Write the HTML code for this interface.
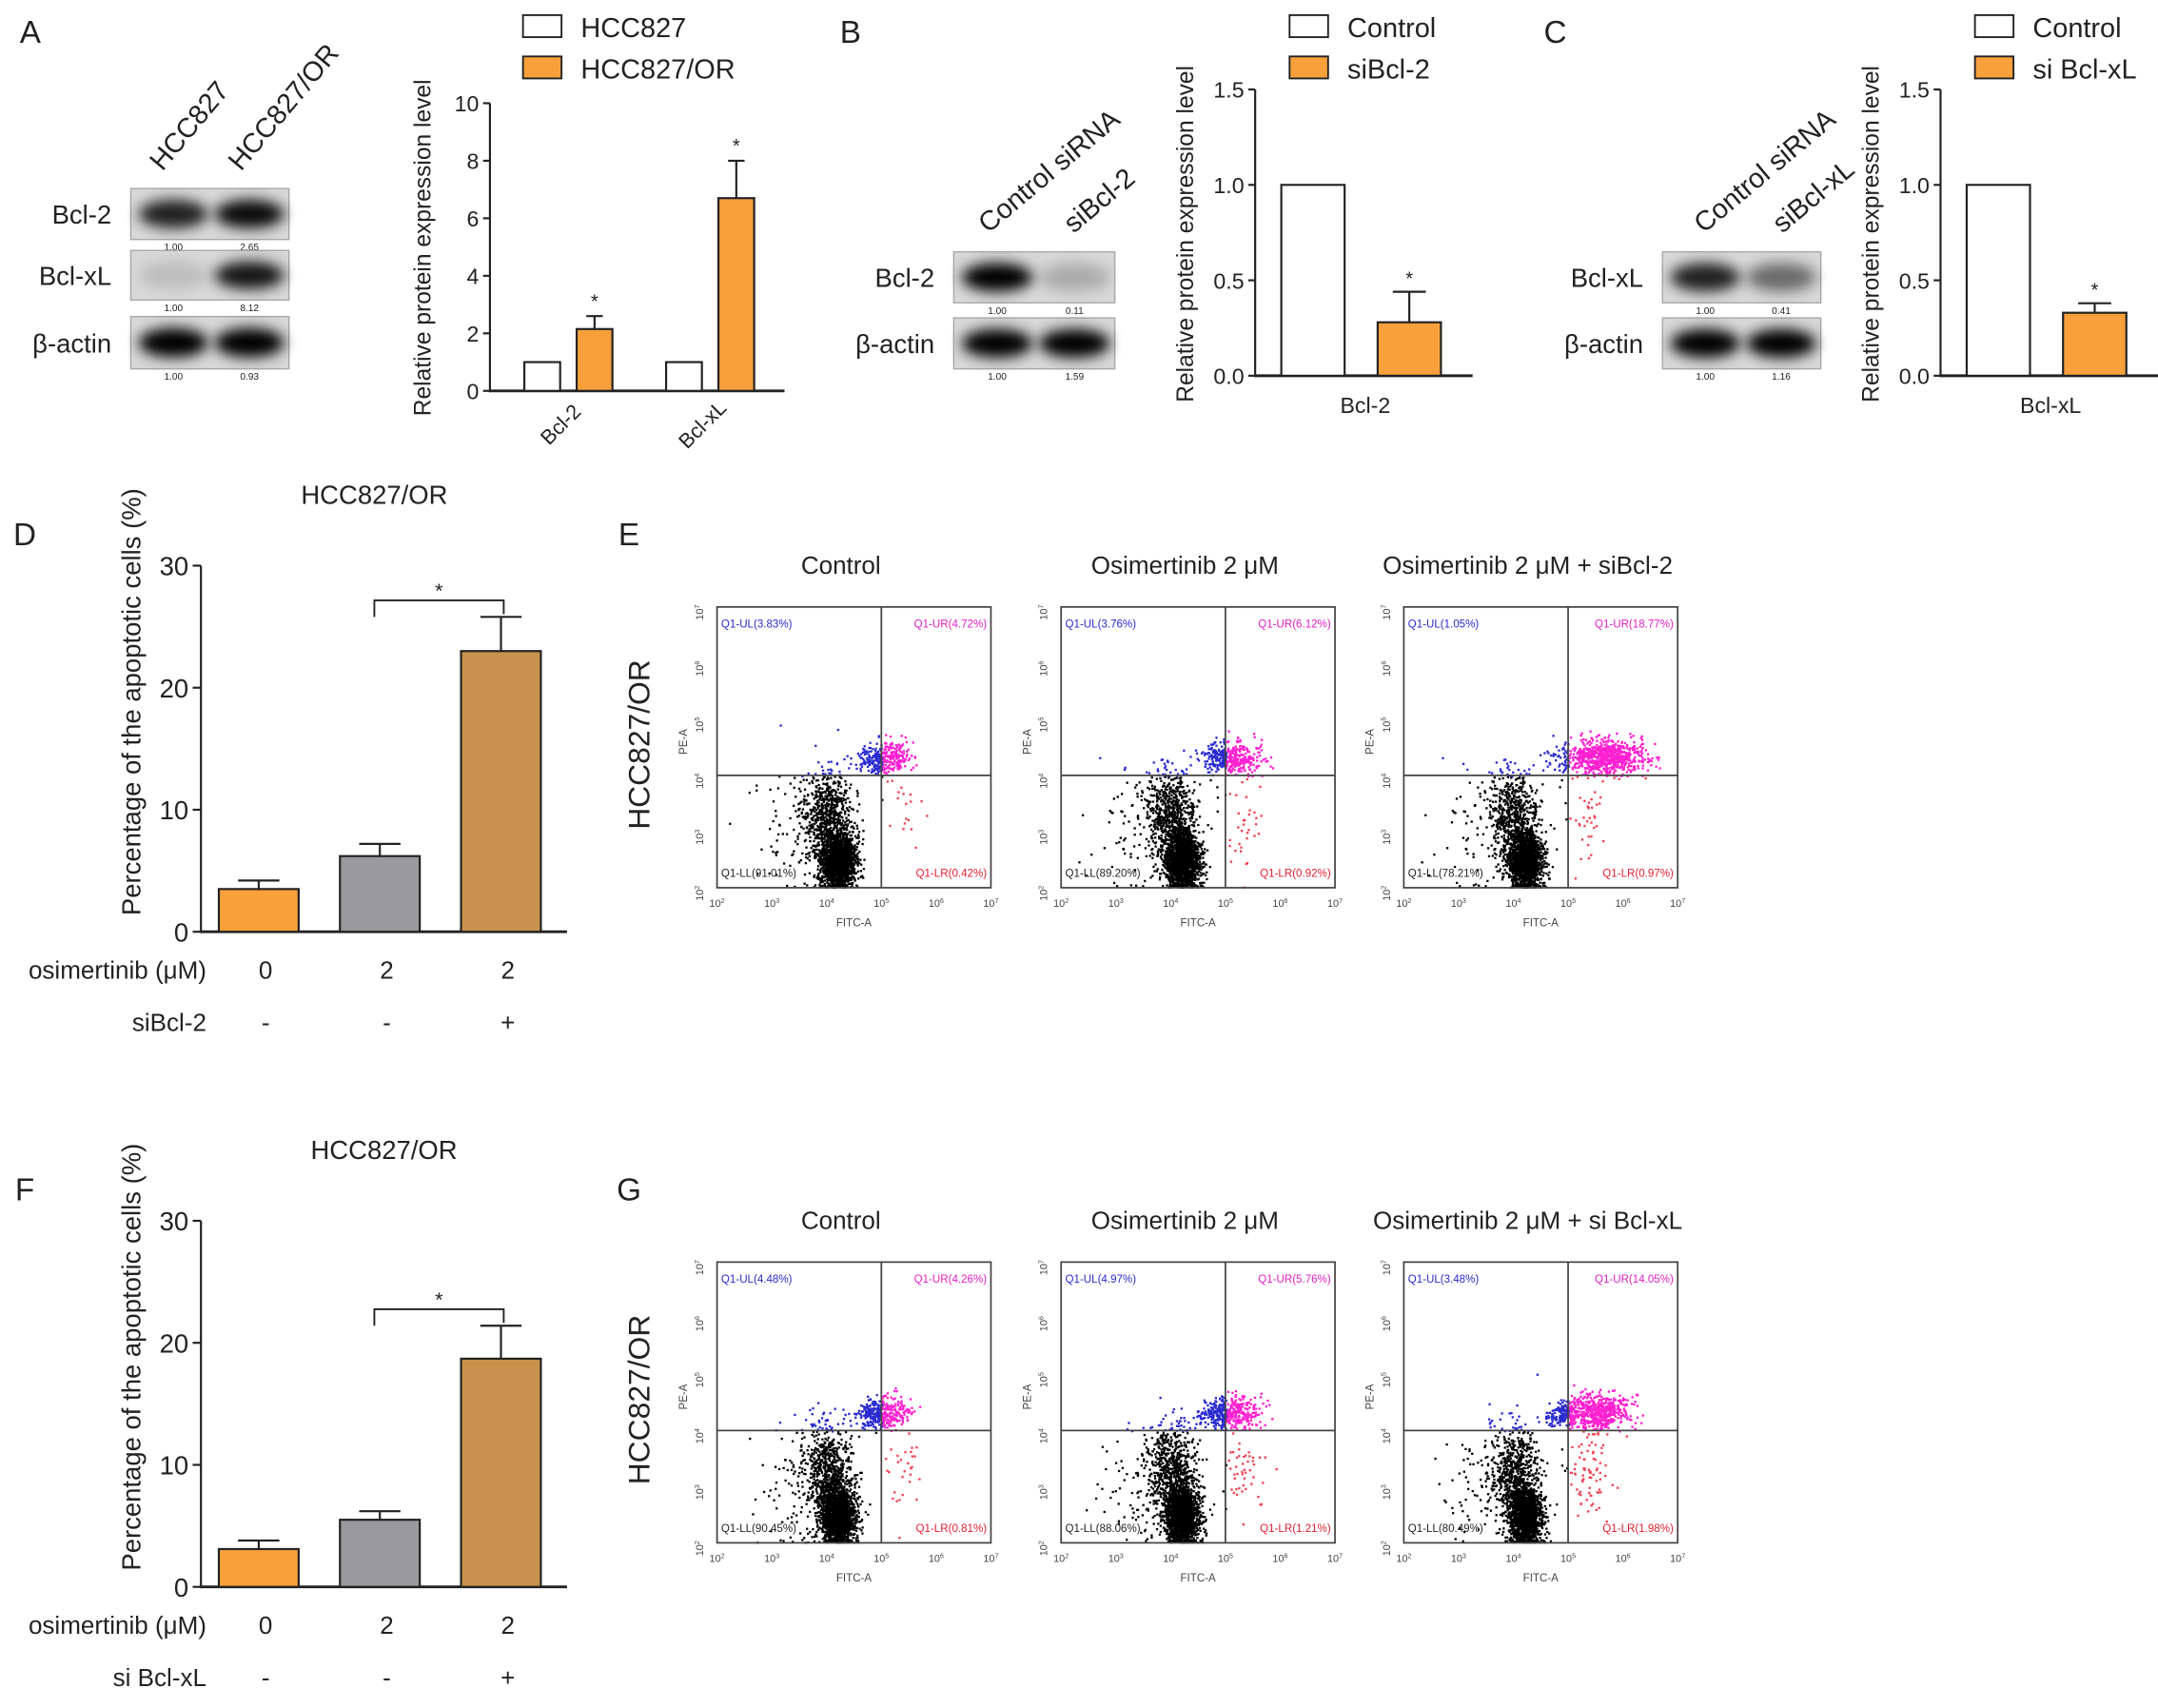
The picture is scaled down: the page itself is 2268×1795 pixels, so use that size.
<!DOCTYPE html>
<html><head><meta charset="utf-8">
<style>
html,body{margin:0;padding:0;background:#fff;}
svg{display:block;font-family:"Liberation Sans",sans-serif;}
</style></head>
<body>
<svg id="fig" width="2268" height="1795" viewBox="0 0 1568 1241" preserveAspectRatio="none" xmlns="http://www.w3.org/2000/svg">
<defs>
<filter id="blur" x="-30%" y="-60%" width="160%" height="220%"><feGaussianBlur stdDeviation="5"/></filter>
</defs>
</svg>
<script>
// ---------- DATA ----------
const aCategories = ["Bcl-2", "Bcl-xL"];
const aSeriesNames = ["HCC827", "HCC827/OR"];
const aControl = [1.0, 1.0];
const aResistant = [2.15, 6.7];
const aResistantErr = [0.45, 1.3];
const aTicks = [0, 2, 4, 6, 8, 10];

const bCategories = ["Bcl-2"];
const bControl = [1.0];
const bSi = [0.28];
const bSiErr = [0.16];
const cCategories = ["Bcl-xL"];
const cControl = [1.0];
const cSi = [0.33];
const cSiErr = [0.05];
const bcTicks = [0.0, 0.5, 1.0, 1.5];

const dValues = [3.5, 6.2, 23.0];
const dErr = [0.7, 1.0, 2.8];
const fValues = [3.1, 5.5, 18.7];
const fErr = [0.7, 0.7, 2.7];
const dfTicks = [0, 10, 20, 30];
const dfDoses = ["0", "2", "2"];
const dfSi = ["-", "-", "+"];

const eTitles = ["Control", "Osimertinib 2 μM", "Osimertinib 2 μM + siBcl-2"];
const gTitles = ["Control", "Osimertinib 2 μM", "Osimertinib 2 μM + si Bcl-xL"];
const eUL = [3.83, 3.76, 1.05], eUR = [4.72, 6.12, 18.77], eLL = [91.01, 89.20, 78.21], eLR = [0.42, 0.92, 0.97];
const gUL = [4.48, 4.97, 3.48], gUR = [4.26, 5.76, 14.05], gLL = [90.45, 88.06, 80.49], gLR = [0.81, 1.21, 1.98];

// ---------- HELPERS ----------
const NS = "http://www.w3.org/2000/svg";
const svg = document.getElementById("fig");
function mk(tag, attrs, parent, text) {
  const e = document.createElementNS(NS, tag);
  for (const k in attrs) e.setAttribute(k, attrs[k]);
  if (text !== undefined) e.textContent = text;
  (parent || svg).appendChild(e);
  return e;
}
function grp(name, parent) {
  const g = mk("g", {}, parent);
  
  
  return g;
}
function txt(parent, x, y, s, size, opts) {
  opts = opts || {};
  const a = {x: x, y: y, "font-size": size, fill: opts.fill || "#222", "text-anchor": opts.anchor || "middle"};
  if (opts.rot !== undefined) a.transform = "rotate(" + opts.rot + " " + x + " " + y + ")";
  if (opts.weight) a["font-weight"] = opts.weight;
  const t = mk("text", a, parent, s);
  
  
  return t;
}
function line(p, x1, y1, x2, y2, w, c) {
  return mk("line", {x1: x1, y1: y1, x2: x2, y2: y2, stroke: c || "#222", "stroke-width": w || 1.5}, p);
}

// ---------- WESTERN BLOTS ----------
function blot(parent, x, w, y, h, label, nums, intens, name) {
  const g = grp(name, parent);
  mk("rect", {x: x, y: y, width: w, height: h, fill: "#d8d8d8", stroke: "#aaa", "stroke-width": 1}, g);
  const lanes = [x + w * 0.27, x + w * 0.75];
  intens.forEach((v, i) => {
    mk("ellipse", {cx: lanes[i], cy: y + h / 2, rx: w * 0.22, ry: h * 0.28, fill: "#000", opacity: v, filter: "url(#blur)"}, g);
  });
  txt(g, x - 14, y + h / 2 + 7, label, 19, {anchor: "end", name: "blot-label"});
  nums.forEach((n, i) => txt(g, lanes[i], y + h + 8, n, 7, {name: "band-value"}));
}

const gA = grp("panel-a");
txt(gA, 22, 31, "A", 23, {name: "panel-letter-a"});
txt(gA, 118, 125, "HCC827", 20, {anchor: "start", rot: -50, name: "lane-label"});
txt(gA, 175, 125, "HCC827/OR", 20, {anchor: "start", rot: -50, name: "lane-label"});
blot(gA, 95, 115, 137, 37, "Bcl-2", ["1.00", "2.65"], [0.85, 0.95], "blot-bcl2");
blot(gA, 95, 115, 182, 36, "Bcl-xL", ["1.00", "8.12"], [0.12, 0.9], "blot-bclxl");
blot(gA, 95, 115, 230, 38, "β-actin", ["1.00", "0.93"], [1, 1], "blot-actin");

const gB = grp("panel-b");
txt(gB, 618, 31, "B", 23, {name: "panel-letter-b"});
txt(gB, 718, 170, "Control siRNA", 20, {anchor: "start", rot: -40, name: "lane-label"});
txt(gB, 780, 170, "siBcl-2", 20, {anchor: "start", rot: -40, name: "lane-label"});
blot(gB, 693, 117, 183, 37, "Bcl-2", ["1.00", "0.11"], [1, 0.2], "blot-bcl2-b");
blot(gB, 693, 117, 231, 37, "β-actin", ["1.00", "1.59"], [1, 1], "blot-actin-b");

const gC = grp("panel-c");
txt(gC, 1130, 31, "C", 23, {name: "panel-letter-c"});
txt(gC, 1238, 170, "Control siRNA", 20, {anchor: "start", rot: -40, name: "lane-label"});
txt(gC, 1295, 170, "siBcl-xL", 20, {anchor: "start", rot: -40, name: "lane-label"});
blot(gC, 1208, 115, 183, 37, "Bcl-xL", ["1.00", "0.41"], [0.85, 0.5], "blot-bclxl-c");
blot(gC, 1208, 115, 231, 37, "β-actin", ["1.00", "1.16"], [1, 1], "blot-actin-c");

// ---------- BAR CHART (A, B, C) ----------
function yScale(v, vmax, y0, y1) { return y0 - (v / vmax) * (y0 - y1); }

function legend(parent, x, names) {
  const cols = ["#fff", "#f7a03c"];
  names.forEach((n, i) => {
    const r = mk("rect", {x: x, y: 11 + i * 30, width: 28, height: 16, fill: cols[i], stroke: "#222", "stroke-width": 1.3}, parent);
    
    
    txt(parent, x + 42, 27 + i * 30, n, 20, {anchor: "start", name: "legend-entry"});
  });
}

(function () {
  const g = grp("chart-a", gA);
  const ax = 356, y0 = 284, y1 = 75, vmax = 10;
  legend(g, 380, aSeriesNames);
  line(g, ax, y1, ax, y0 + 1, 1.5);
  line(g, ax, y0, 570, y0, 2);
  aTicks.forEach(t => {
    const y = yScale(t, vmax, y0, y1);
    line(g, ax - 5, y, ax, y, 1.5);
    txt(g, ax - 8, y + 6, String(t), 16, {anchor: "end", name: "y-tick-label"});
  });
  txt(g, 313, 180, "Relative protein expression level", 17, {rot: -90, name: "y-axis-title"});
  const groupX = [381, 484];
  aCategories.forEach((c, i) => {
    const gx = groupX[i];
    const yc = yScale(aControl[i], vmax, y0, y1);
    const b1 = mk("rect", {x: gx, y: yc, width: 26, height: y0 - yc, fill: "#fff", stroke: "#222", "stroke-width": 1.5}, g);
    
    
    const yr = yScale(aResistant[i], vmax, y0, y1);
    const ye = yScale(aResistant[i] + aResistantErr[i], vmax, y0, y1);
    line(g, gx + 51, ye, gx + 51, yr, 1.5);
    line(g, gx + 45, ye, gx + 57, ye, 1.5);
    const b2 = mk("rect", {x: gx + 38, y: yr, width: 26, height: y0 - yr, fill: "#f7a03c", stroke: "#222", "stroke-width": 1.5}, g);
    
    
    txt(g, gx + 51, ye - 6, "*", 14, {name: "significance-star"});
    txt(g, gx + 30, 312, c, 15, {anchor: "middle", rot: -45, name: "x-tick-label"});
  });
})();

function smallChart(parent, ax, names, cats, ctrl, si, err, name) {
  const g = grp(name, parent);
  const y0 = 273, y1 = 65, vmax = 1.5;
  legend(g, ax + 25, names);
  line(g, ax, y1, ax, y0 + 1, 1.5);
  line(g, ax, y0, ax + 158, y0, 2);
  bcTicks.forEach(t => {
    const y = yScale(t, vmax, y0, y1);
    line(g, ax - 5, y, ax, y, 1.5);
    txt(g, ax - 8, y + 6, t.toFixed(1), 16, {anchor: "end", name: "y-tick-label"});
  });
  txt(g, ax - 45, 170, "Relative protein expression level", 17, {rot: -90, name: "y-axis-title"});
  const yc = yScale(ctrl[0], vmax, y0, y1);
  const b1 = mk("rect", {x: ax + 19, y: yc, width: 46, height: y0 - yc, fill: "#fff", stroke: "#222", "stroke-width": 1.5}, g);
  
  
  const yr = yScale(si[0], vmax, y0, y1), ye = yScale(si[0] + err[0], vmax, y0, y1);
  line(g, ax + 112, ye, ax + 112, yr, 1.5);
  line(g, ax + 100, ye, ax + 124, ye, 1.5);
  const b2 = mk("rect", {x: ax + 89, y: yr, width: 46, height: y0 - yr, fill: "#f7a03c", stroke: "#222", "stroke-width": 1.5}, g);
  
  
  txt(g, ax + 112, ye - 5, "*", 14, {name: "significance-star"});
  txt(g, ax + 80, 300, cats[0], 16, {name: "x-tick-label"});
}
smallChart(gB, 912, ["Control", "siBcl-2"], bCategories, bControl, bSi, bSiErr, "chart-b");
smallChart(gC, 1410, ["Control", "si Bcl-xL"], cCategories, cControl, cSi, cSiErr, "chart-c");

// ---------- APOPTOSIS BAR CHARTS (D, F) ----------
function apoChart(letter, dy, vals, errs, siLabel, name) {
  const g = grp(name);
  const ax = 146, y0 = 677 + dy, y1 = 411 + dy, vmax = 30;
  txt(g, 18, 396 + dy, letter, 23, {name: "panel-letter"});
  txt(g, 272 + (dy ? 7 : 0), 366 + dy, "HCC827/OR", 19, {name: "chart-title"});
  txt(g, 102, 510 + dy, "Percentage of the apoptotic cells (%)", 19, {rot: -90, name: "y-axis-title"});
  line(g, ax, y1, ax, y0 + 1, 1.5);
  line(g, ax, y0, 412, y0, 2);
  dfTicks.forEach(t => {
    const y = yScale(t, vmax, y0, y1);
    line(g, ax - 6, y, ax, y, 1.5);
    txt(g, ax - 9, y + 7, String(t), 19, {anchor: "end", name: "y-tick-label"});
  });
  const cols = ["#f7a03c", "#9a9a9e", "#c8914c"];
  const bx = [159, 247, 335];
  vals.forEach((v, i) => {
    const yv = yScale(v, vmax, y0, y1), ye = yScale(v + errs[i], vmax, y0, y1);
    const cx = bx[i] + 29;
    line(g, cx, ye, cx, yv, 1.5);
    line(g, cx - 15, ye, cx + 15, ye, 1.5);
    const r = mk("rect", {x: bx[i], y: yv, width: 58, height: y0 - yv, fill: cols[i], stroke: "#222", "stroke-width": 1.5}, g);
    
    
    txt(g, cx + 5, 711 + dy, dfDoses[i], 18, {name: "dose-label"});
    txt(g, cx + 5, 749 + dy, dfSi[i], 18, {name: "sirna-label"});
  });
  const top3 = yScale(vals[2] + errs[2], vmax, y0, y1);
  const by = top3 - 12;
  const p = mk("path", {d: "M" + (bx[1] + 25) + " " + (by + 12) + " V" + by + " H" + (bx[2] + 31) + " V" + (by + 10), fill: "none", stroke: "#222", "stroke-width": 1.3}, g);
  
  
  txt(g, (bx[1] + bx[2]) / 2 + 28, by - 2, "*", 15, {name: "significance-star"});
  txt(g, 150, 711 + dy, "osimertinib (μM)", 18, {anchor: "end", name: "row-label"});
  txt(g, 150, 749 + dy, siLabel, 18, {anchor: "end", name: "row-label"});
}
apoChart("D", 0, dValues, dErr, "siBcl-2", "chart-d");
apoChart("F", 476, fValues, fErr, "si Bcl-xL", "chart-f");

// ---------- FLOW CYTOMETRY (E, G) ----------
let seed = 12345;
function rnd() { seed = (seed * 1103515245 + 12345) % 2147483648; return seed / 2147483648; }
function gauss() { let u = 0, v = 0; while (u === 0) u = rnd(); v = rnd(); return Math.sqrt(-2 * Math.log(u)) * Math.cos(2 * Math.PI * v); }

function flowPlot(parent, x0, yTop, title, ul, ur, ll, lr, name) {
  const g = grp(name, parent);
  const w = 199, h = 204;
  const dx = w / 5, dyy = h / 5;
  const X = lg => x0 + (lg - 2) * dx;
  const Y = lg => yTop + h - (lg - 2) * dyy;
  txt(g, x0 + 90, yTop - 24, title, 18, {name: "flow-title"});
  const dots = grp("flow-dots", g);
  function cloud(n, mx, my, sx, sy, col) {
    for (let i = 0; i < n; i++) {
      let lx = mx + gauss() * sx, ly = my + gauss() * sy;
      if (ly < 2.02) ly = 2.02 + rnd() * 0.05;
      if (lx < 2.05 || lx > 6.95 || ly > 6.95) continue;
      let c = col;
      if (!c) c = ly >= 4 ? (lx >= 5 ? "#ff1fd0" : "#2a2ad0") : (lx >= 5 ? "#f04050" : "#000");
      mk("rect", {x: X(lx), y: Y(ly), width: 1.6, height: 1.6, fill: c}, dots);
    }
  }
  const llN = Math.round(ll * 28);
  cloud(Math.round(llN * 0.7), 4.2, 2.5, 0.15, 0.25);
  cloud(Math.round(llN * 0.25), 4.0, 3.3, 0.22, 0.4);
  cloud(Math.round(llN * 0.05), 3.6, 3.0, 0.45, 0.6);
  cloud(Math.round(ur * 40), 5.0 + ur * 0.035, 4.35, 0.16 + ur * 0.01, 0.15);
  cloud(Math.round(ul * 35), 4.85, 4.3, 0.18, 0.12);
  cloud(Math.round(lr * 40), 5.35, 3.3, 0.18, 0.45);
  mk("rect", {x: x0, y: yTop, width: w, height: h, fill: "none", stroke: "#444", "stroke-width": 1.2}, g);
  line(g, X(5), yTop, X(5), yTop + h, 1.2, "#444");
  line(g, x0, Y(4), x0 + w, Y(4), 1.2, "#444");
  for (let k = 2; k <= 7; k++) {
    const tx = txt(g, X(k), yTop + h + 14, "10", 7.5, {fill: "#444", name: "x-tick-label"});
    mk("tspan", {dy: -3, "font-size": 5}, tx, String(k));
    const ty = txt(g, x0 - 10, Y(k) + 4, "10", 7.5, {fill: "#444", rot: -90, name: "y-tick-label"});
    mk("tspan", {dy: -3, "font-size": 5}, ty, String(k));
  }
  txt(g, X(4.5), yTop + h + 28, "FITC-A", 8, {fill: "#444", name: "x-axis-title"});
  txt(g, x0 - 22, Y(4.6), "PE-A", 8, {fill: "#444", rot: -90, name: "y-axis-title"});
  txt(g, x0 + 3, yTop + 15, "Q1-UL(" + ul.toFixed(2) + "%)", 8, {anchor: "start", fill: "#2a2ad0", name: "quadrant-ul"});
  txt(g, x0 + w - 3, yTop + 15, "Q1-UR(" + ur.toFixed(2) + "%)", 8, {anchor: "end", fill: "#e020c8", name: "quadrant-ur"});
  txt(g, x0 + 3, yTop + h - 8, "Q1-LL(" + ll.toFixed(2) + "%)", 8, {anchor: "start", fill: "#222", name: "quadrant-ll"});
  txt(g, x0 + w - 3, yTop + h - 8, "Q1-LR(" + lr.toFixed(2) + "%)", 8, {anchor: "end", fill: "#e02030", name: "quadrant-lr"});
}

function flowPanel(letter, yTop, titles, ul, ur, ll, lr, name) {
  const g = grp(name);
  txt(g, 457, yTop - 45, letter, 23, {name: "panel-letter"});
  txt(g, 472, yTop + 100, "HCC827/OR", 22, {rot: -90, name: "row-label"});
  const xs = [521, 771, 1020];
  titles.forEach((t, i) => flowPlot(g, xs[i], yTop, t, ul[i], ur[i], ll[i], lr[i], "flow-plot-" + i));
}
flowPanel("E", 441, eTitles, eUL, eUR, eLL, eLR, "panel-e");
flowPanel("G", 917, gTitles, gUL, gUR, gLL, gLR, "panel-g");
</script>
</body></html>
